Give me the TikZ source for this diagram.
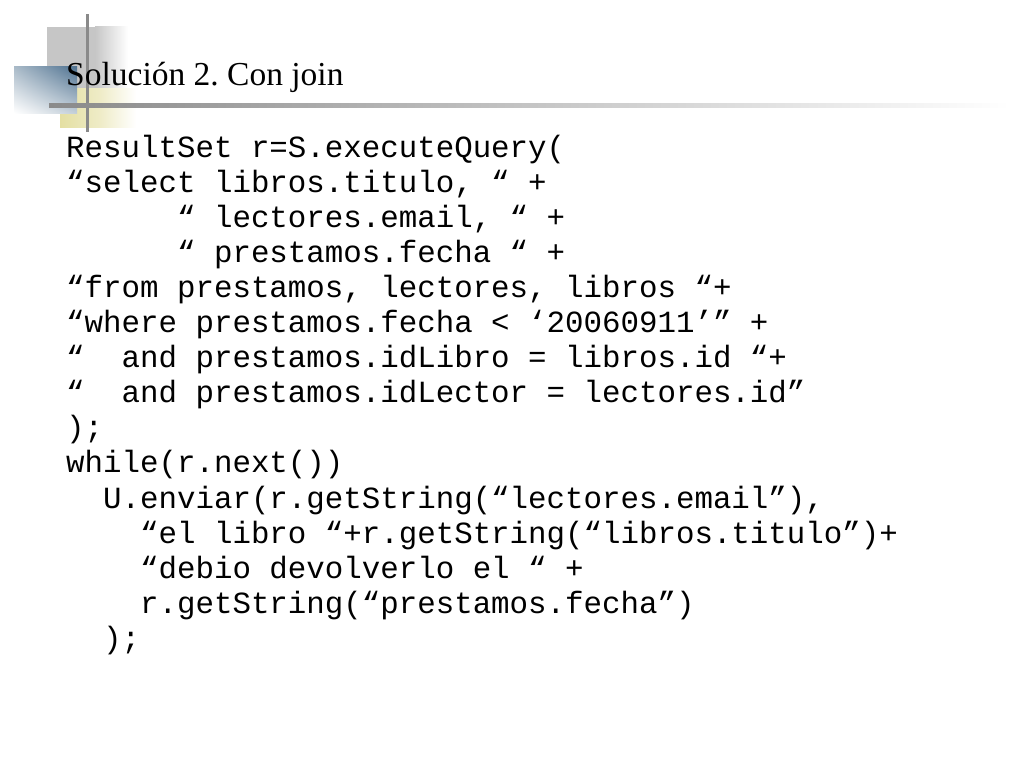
\documentclass[tikz,border=0pt]{standalone}
\usepackage{fontspec}
\setmainfont{Liberation Serif}
\newfontfamily\codefont{Liberation Mono}
\usetikzlibrary{shadings}

\definecolor{barGray}{HTML}{8A8A8A}
\definecolor{boxGray}{HTML}{C6C6C6}
\definecolor{boxYellow}{HTML}{E4DFA2}
\definecolor{boxBlue}{HTML}{4E7190}
\definecolor{boxBlueL}{HTML}{A9BAC8}

\begin{document}
\begin{tikzpicture}[x=1pt,y=-1pt]
\tikzset{
  title/.style = {font=\fontsize{33.5}{40}\selectfont, anchor=base west, inner sep=0pt},
  code/.style  = {font=\codefont\fontsize{30.8}{35}\selectfont, anchor=base west, inner sep=0pt}
}
\useasboundingbox[fill=white] (0,0) rectangle (1024,768);

% decoration in the corner
\fill[boxGray] (47,27) rectangle (95,100);
\shade[left color=boxGray, right color=white] (95,27) rectangle (128,100);
\shade[left color=boxYellow, right color=boxYellow!60!white] (60,88) rectangle (100,127);
\shade[left color=boxYellow!60!white, right color=white] (100,88) rectangle (136,127);
\shade[upper left=boxBlueL, upper right=boxBlue, lower left=white, lower right=boxBlueL!70!white]
  (14,66) rectangle (77,113);
\fill[barGray] (85.5,14) rectangle (88.5,132);
\shade[left color=barGray, middle color=gray!40, right color=white] (49,103) rectangle (1010,107);

% title
\node[title] (title) at (66,85) {\frenchspacing Solución 2. Con join};

% code lines: indent/text
\foreach \ind/\txt [count=\i] in {
  0/{ResultSet r=S.executeQuery(},
  0/{“select libros.titulo, “ +},
  6/{“ lectores.email, “ +},
  6/{“ prestamos.fecha “ +},
  0/{“from prestamos, lectores, libros “+},
  0/{“where prestamos.fecha < ‘20060911’” +},
  0/{“\ \ and prestamos.idLibro = libros.id “+},
  0/{“\ \ and prestamos.idLector = lectores.id”},
  0/{);},
  0/{while(r.next())},
  2/{U.enviar(r.getString(“lectores.email”),},
  4/{“el libro “+r.getString(“libros.titulo”)+},
  4/{“debio devolverlo el “ +},
  4/{r.getString(“prestamos.fecha”)},
  2/{);}
}
  \node[code] (l\i) at (66+\ind*18.48, 157+35.1*\i-35.1) {\txt};
\end{tikzpicture}
\end{document}
